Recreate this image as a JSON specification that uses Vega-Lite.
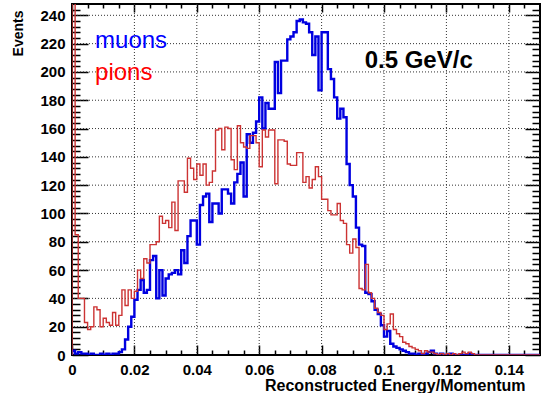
{
  "$schema": "https://vega.github.io/schema/vega-lite/v6.json",
  "width": 468,
  "height": 351,
  "autosize": "none",
  "padding": {"left": 72, "top": 4, "right": 2, "bottom": 38},
  "background": "white",
  "config": {
    "font": "Liberation Sans",
    "view": {"stroke": "black", "strokeWidth": 2},
    "axis": {
      "labelFont": "Liberation Sans",
      "labelFontWeight": "bold",
      "labelFontSize": 15,
      "labelColor": "black",
      "tickColor": "black",
      "tickWidth": 1.5,
      "domain": false,
      "grid": false,
      "titleFont": "Liberation Sans",
      "titleFontWeight": "bold",
      "titleColor": "black",
      "labelFlush": false,
      "labelOverlap": false
    }
  },
  "datasets": {
    "gridx": [{"v":0.02},{"v":0.04},{"v":0.06},{"v":0.08},{"v":0.1},{"v":0.12},{"v":0.14}],
    "gridy": [{"h":20},{"h":40},{"h":60},{"h":80},{"h":100},{"h":120},{"h":140},{"h":160},{"h":180},{"h":200},{"h":220},{"h":240}],
    "hist": [
      {"x":0,"mu":0,"pi":0},
      {"x":0,"mu":3,"pi":300},
      {"x":0.001,"mu":1,"pi":85},
      {"x":0.002,"mu":2,"pi":40},
      {"x":0.003,"mu":1,"pi":40},
      {"x":0.004,"mu":1,"pi":23},
      {"x":0.005,"mu":0,"pi":18},
      {"x":0.006,"mu":1,"pi":20},
      {"x":0.007,"mu":0,"pi":34},
      {"x":0.008,"mu":0,"pi":32},
      {"x":0.009,"mu":1,"pi":20},
      {"x":0.01,"mu":0,"pi":26},
      {"x":0.011,"mu":1,"pi":23},
      {"x":0.012,"mu":0,"pi":21},
      {"x":0.013,"mu":1,"pi":30},
      {"x":0.014,"mu":1,"pi":21},
      {"x":0.015,"mu":2,"pi":28},
      {"x":0.016,"mu":4,"pi":46},
      {"x":0.017,"mu":11,"pi":35},
      {"x":0.018,"mu":20,"pi":46},
      {"x":0.019,"mu":27,"pi":40},
      {"x":0.02,"mu":39,"pi":45},
      {"x":0.021,"mu":46,"pi":60},
      {"x":0.022,"mu":53,"pi":54},
      {"x":0.023,"mu":44,"pi":68},
      {"x":0.024,"mu":46,"pi":65},
      {"x":0.025,"mu":67,"pi":78},
      {"x":0.026,"mu":70,"pi":78},
      {"x":0.027,"mu":40,"pi":80},
      {"x":0.028,"mu":60,"pi":98},
      {"x":0.029,"mu":42,"pi":93},
      {"x":0.03,"mu":54,"pi":95},
      {"x":0.031,"mu":57,"pi":90},
      {"x":0.032,"mu":58,"pi":108},
      {"x":0.033,"mu":60,"pi":88},
      {"x":0.034,"mu":57,"pi":123},
      {"x":0.035,"mu":74,"pi":123},
      {"x":0.036,"mu":65,"pi":115},
      {"x":0.037,"mu":84,"pi":139},
      {"x":0.038,"mu":95,"pi":132},
      {"x":0.039,"mu":95,"pi":124},
      {"x":0.04,"mu":78,"pi":135},
      {"x":0.041,"mu":106,"pi":127},
      {"x":0.042,"mu":112,"pi":135},
      {"x":0.043,"mu":114,"pi":120},
      {"x":0.044,"mu":94,"pi":122},
      {"x":0.045,"mu":107,"pi":130},
      {"x":0.046,"mu":107,"pi":159},
      {"x":0.047,"mu":100,"pi":160},
      {"x":0.048,"mu":117,"pi":145},
      {"x":0.049,"mu":117,"pi":161},
      {"x":0.05,"mu":114,"pi":160},
      {"x":0.051,"mu":107,"pi":138},
      {"x":0.052,"mu":122,"pi":131},
      {"x":0.053,"mu":128,"pi":162},
      {"x":0.054,"mu":136,"pi":150},
      {"x":0.055,"mu":112,"pi":147},
      {"x":0.056,"mu":156,"pi":146},
      {"x":0.057,"mu":150,"pi":155},
      {"x":0.058,"mu":157,"pi":155},
      {"x":0.059,"mu":165,"pi":150},
      {"x":0.06,"mu":182,"pi":133},
      {"x":0.061,"mu":160,"pi":159},
      {"x":0.062,"mu":178,"pi":154},
      {"x":0.063,"mu":174,"pi":159},
      {"x":0.064,"mu":174,"pi":159},
      {"x":0.065,"mu":207,"pi":121},
      {"x":0.066,"mu":185,"pi":152},
      {"x":0.067,"mu":208,"pi":152},
      {"x":0.068,"mu":208,"pi":151},
      {"x":0.069,"mu":223,"pi":135},
      {"x":0.07,"mu":225,"pi":134},
      {"x":0.071,"mu":228,"pi":134},
      {"x":0.072,"mu":236,"pi":143},
      {"x":0.073,"mu":237,"pi":143},
      {"x":0.074,"mu":235,"pi":122},
      {"x":0.075,"mu":234,"pi":126},
      {"x":0.076,"mu":228,"pi":118},
      {"x":0.077,"mu":212,"pi":124},
      {"x":0.078,"mu":225,"pi":133},
      {"x":0.079,"mu":187,"pi":126},
      {"x":0.08,"mu":228,"pi":110},
      {"x":0.081,"mu":228,"pi":110},
      {"x":0.082,"mu":202,"pi":102},
      {"x":0.083,"mu":195,"pi":99},
      {"x":0.084,"mu":182,"pi":99},
      {"x":0.085,"mu":167,"pi":107},
      {"x":0.086,"mu":174,"pi":95},
      {"x":0.087,"mu":168,"pi":93},
      {"x":0.088,"mu":135,"pi":78},
      {"x":0.089,"mu":120,"pi":72},
      {"x":0.09,"mu":112,"pi":82},
      {"x":0.091,"mu":90,"pi":76},
      {"x":0.092,"mu":78,"pi":47},
      {"x":0.093,"mu":77,"pi":46},
      {"x":0.094,"mu":44,"pi":64},
      {"x":0.095,"mu":43,"pi":44},
      {"x":0.096,"mu":38,"pi":40},
      {"x":0.097,"mu":32,"pi":33},
      {"x":0.098,"mu":29,"pi":30},
      {"x":0.099,"mu":21,"pi":28},
      {"x":0.1,"mu":13,"pi":18},
      {"x":0.101,"mu":17,"pi":22},
      {"x":0.102,"mu":8,"pi":29},
      {"x":0.103,"mu":6,"pi":18},
      {"x":0.104,"mu":5,"pi":15},
      {"x":0.105,"mu":4,"pi":13},
      {"x":0.106,"mu":3,"pi":9},
      {"x":0.107,"mu":2,"pi":8},
      {"x":0.108,"mu":1,"pi":6},
      {"x":0.109,"mu":1,"pi":5},
      {"x":0.11,"mu":0,"pi":4},
      {"x":0.111,"mu":1,"pi":3},
      {"x":0.112,"mu":0,"pi":1},
      {"x":0.113,"mu":1,"pi":3},
      {"x":0.114,"mu":2,"pi":2},
      {"x":0.115,"mu":3,"pi":2},
      {"x":0.116,"mu":1,"pi":1},
      {"x":0.117,"mu":0,"pi":0},
      {"x":0.118,"mu":1,"pi":1},
      {"x":0.119,"mu":0,"pi":0},
      {"x":0.12,"mu":0,"pi":1},
      {"x":0.121,"mu":1,"pi":0},
      {"x":0.122,"mu":0,"pi":1},
      {"x":0.123,"mu":0,"pi":0},
      {"x":0.124,"mu":0,"pi":1},
      {"x":0.125,"mu":0,"pi":2},
      {"x":0.126,"mu":0,"pi":1},
      {"x":0.127,"mu":1,"pi":2},
      {"x":0.128,"mu":0,"pi":1},
      {"x":0.129,"mu":0,"pi":0},
      {"x":0.13,"mu":0,"pi":0},
      {"x":0.131,"mu":0,"pi":0},
      {"x":0.132,"mu":0,"pi":0},
      {"x":0.133,"mu":0,"pi":0},
      {"x":0.134,"mu":0,"pi":0},
      {"x":0.135,"mu":0,"pi":0},
      {"x":0.136,"mu":0,"pi":0},
      {"x":0.137,"mu":0,"pi":0},
      {"x":0.138,"mu":0,"pi":0},
      {"x":0.139,"mu":0,"pi":0},
      {"x":0.14,"mu":0,"pi":0},
      {"x":0.141,"mu":0,"pi":0},
      {"x":0.142,"mu":0,"pi":0},
      {"x":0.143,"mu":0,"pi":0},
      {"x":0.144,"mu":0,"pi":0},
      {"x":0.145,"mu":0,"pi":0},
      {"x":0.146,"mu":0,"pi":0},
      {"x":0.147,"mu":0,"pi":0},
      {"x":0.148,"mu":0,"pi":0},
      {"x":0.149,"mu":0,"pi":0},
      {"x":0.15,"mu":0,"pi":0}
    ]
  },
  "resolve": {"axis": {"x": "independent", "y": "independent"}},
  "layer": [
    {
      "data": {"name": "gridx"},
      "mark": {"type": "rule", "color": "#333333", "strokeWidth": 1, "strokeDash": [1, 2]},
      "encoding": {
        "x": {"field": "v", "type": "quantitative",
          "scale": {"domain": [0, 0.15], "nice": false, "zero": false}, "axis": null}
      }
    },
    {
      "data": {"name": "gridy"},
      "mark": {"type": "rule", "color": "#333333", "strokeWidth": 1, "strokeDash": [1, 2]},
      "encoding": {
        "y": {"field": "h", "type": "quantitative",
          "scale": {"domain": [0, 248], "nice": false}, "axis": null}
      }
    },
    {
      "data": {"name": "hist"},
      "mark": {"type": "line", "interpolate": "step-after", "color": "#0000e0", "strokeWidth": 2.4, "clip": true},
      "encoding": {
        "x": {"field": "x", "type": "quantitative",
          "scale": {"domain": [0, 0.15], "nice": false, "zero": false},
          "axis": {"orient": "bottom", "values": [0,0.02,0.04,0.06,0.08,0.1,0.12,0.14], "format": "~g",
            "tickSize": -10, "labelPadding": 17,
            "title": "Reconstructed Energy/Momentum", "titleFontSize": 16,
            "titleAlign": "right", "titleBaseline": "alphabetic", "titleX": 453, "titleY": 35}},
        "y": {"field": "mu", "type": "quantitative",
          "scale": {"domain": [0, 248], "nice": false},
          "axis": {"orient": "left", "values": [0,20,40,60,80,100,120,140,160,180,200,220,240],
            "tickSize": -16, "labelPadding": 23,
            "title": "Events", "titleFontSize": 14, "titleAngle": 270,
            "titleAlign": "right", "titleBaseline": "alphabetic", "titleX": -50, "titleY": 6}},
        "order": {"value": null}
      }
    },
    {
      "data": {"name": "hist"},
      "mark": {"type": "line", "interpolate": "step-after", "color": "#cc3333", "strokeWidth": 1.4, "clip": true},
      "encoding": {
        "x": {"field": "x", "type": "quantitative",
          "scale": {"domain": [0, 0.15], "nice": false, "zero": false},
          "axis": {"orient": "bottom", "values": [0.005,0.01,0.015,0.025,0.03,0.035,0.045,0.05,0.055,0.065,0.07,0.075,0.085,0.09,0.095,0.105,0.11,0.115,0.125,0.13,0.135,0.145],
            "labels": false, "tickSize": -5, "title": null}},
        "y": {"field": "pi", "type": "quantitative",
          "scale": {"domain": [0, 248], "nice": false},
          "axis": {"orient": "left", "values": [4,8,12,16,24,28,32,36,44,48,52,56,64,68,72,76,84,88,92,96,104,108,112,116,124,128,132,136,144,148,152,156,164,168,172,176,184,188,192,196,204,208,212,216,224,228,232,236,244],
            "labels": false, "tickSize": -8, "title": null}},
        "order": {"value": null}
      }
    },
    {
      "data": {"values": [{}]},
      "mark": {"type": "text", "text": "muons", "color": "#0000ff", "fontSize": 24, "font": "Liberation Sans", "align": "left", "baseline": "alphabetic"},
      "encoding": {
        "x": {"datum": 0.0074, "type": "quantitative",
          "axis": {"orient": "top", "values": [0,0.02,0.04,0.06,0.08,0.1,0.12,0.14], "labels": false, "tickSize": -8, "title": null}},
        "y": {"datum": 217, "type": "quantitative",
          "axis": {"orient": "right", "values": [0,20,40,60,80,100,120,140,160,180,200,220,240], "labels": false, "tickSize": -15, "title": null}}
      }
    },
    {
      "data": {"values": [{}]},
      "mark": {"type": "text", "text": "pions", "color": "#ff0000", "fontSize": 24, "font": "Liberation Sans", "align": "left", "baseline": "alphabetic"},
      "encoding": {
        "x": {"datum": 0.0074, "type": "quantitative",
          "axis": {"orient": "top", "values": [0.005,0.01,0.015,0.025,0.03,0.035,0.045,0.05,0.055,0.065,0.07,0.075,0.085,0.09,0.095,0.105,0.11,0.115,0.125,0.13,0.135,0.145], "labels": false, "tickSize": -4, "title": null}},
        "y": {"datum": 194, "type": "quantitative",
          "axis": {"orient": "right", "values": [4,8,12,16,24,28,32,36,44,48,52,56,64,68,72,76,84,88,92,96,104,108,112,116,124,128,132,136,144,148,152,156,164,168,172,176,184,188,192,196,204,208,212,216,224,228,232,236,244], "labels": false, "tickSize": -8, "title": null}}
      }
    },
    {
      "data": {"values": [{}]},
      "mark": {"type": "text", "text": "0.5 GeV/c", "color": "black", "fontSize": 24, "fontWeight": "bold", "font": "Liberation Sans", "align": "left", "baseline": "alphabetic"},
      "encoding": {
        "x": {"datum": 0.0938, "type": "quantitative", "axis": null},
        "y": {"datum": 202.6, "type": "quantitative", "axis": null}
      }
    }
  ]
}
